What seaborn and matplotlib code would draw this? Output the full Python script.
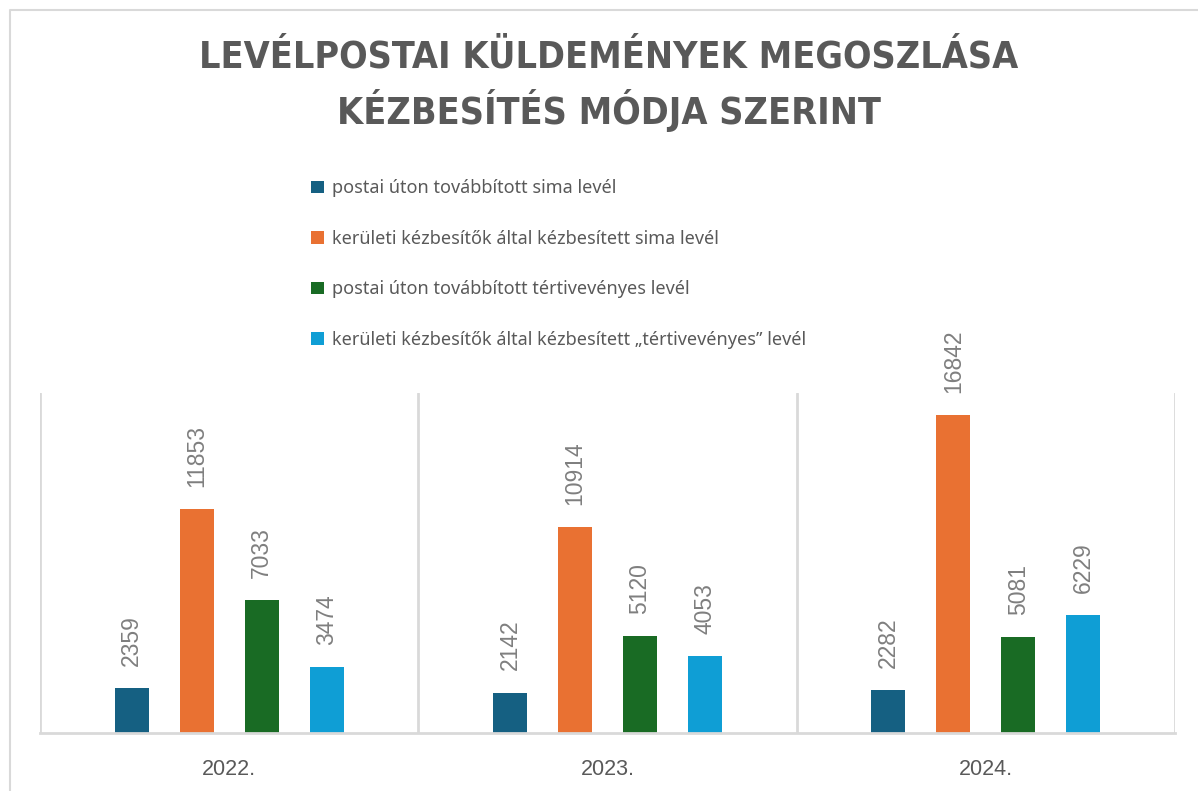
import matplotlib
matplotlib.use("Agg")
import matplotlib.pyplot as plt
import seaborn as sns
import pandas as pd
from matplotlib.lines import Line2D

years = ["2022.", "2023.", "2024."]
series = [
    "postai úton továbbított sima levél",
    "kerületi kézbesítők által kézbesített sima levél",
    "postai úton továbbított tértivevényes levél",
    "kerületi kézbesítők által kézbesített „tértivevényes” levél",
]
postai_sima = [2359, 2142, 2282]
keruleti_sima = [11853, 10914, 16842]
postai_terti = [7033, 5120, 5081]
keruleti_terti = [3474, 4053, 6229]
colors = ["#156082", "#E97132", "#196B24", "#0F9ED5"]

title = "LEVÉLPOSTAI KÜLDEMÉNYEK MEGOSZLÁSA\nKÉZBESÍTÉS MÓDJA SZERINT"

values = [postai_sima, keruleti_sima, postai_terti, keruleti_terti]
rows = []
for s, vals in zip(series, values):
    for y, v in zip(years, vals):
        rows.append({"year": y, "series": s, "value": v})
df = pd.DataFrame(rows)

sns.set_theme(style="white")
plt.rcParams["font.family"] = ["Liberation Sans", "DejaVu Sans"]

fig = plt.figure(figsize=(11.98, 7.91), dpi=100)
ax = fig.add_axes([40 / 1198, 1 - 733 / 791, (1175 - 40) / 1198, (733 - 393) / 791])

sns.barplot(data=df, x="year", y="value", hue="series", hue_order=series,
            palette=colors, width=0.688, gap=0.477, ax=ax, linewidth=0,
            errorbar=None, saturation=1)

ax.set_ylim(0, 18000)
ax.set_xlim(-0.5, 2.5)
ax.set_xlabel("")
ax.set_ylabel("")
ax.set_yticks([])
for sp in ["top", "left", "right"]:
    ax.spines[sp].set_visible(False)
ax.spines["bottom"].set_color("#d9d9d9")
ax.spines["bottom"].set_linewidth(2)
for xv in [-0.5, 0.5, 1.5, 2.5]:
    ax.axvline(xv, color="#d9d9d9", lw=2, zorder=0)
ax.tick_params(axis="x", length=0, pad=19, labelsize=15.5, colors="#595959")

for cont in ax.containers:
    ax.bar_label(cont, fmt="%d", rotation=90, padding=16, color="#7f7f7f",
                 fontsize=16.5)

handles, labels = ax.get_legend_handles_labels()
if ax.get_legend() is not None:
    ax.get_legend().remove()
leg = fig.legend(handles, labels, loc="upper left",
                 bbox_to_anchor=(295 / 1198, 1 - 163 / 791), frameon=False,
                 handlelength=0.7, handleheight=0.7, handletextpad=0.45,
                 labelspacing=1.8, prop={"family": "Noto Sans", "size": 13})
for t in leg.get_texts():
    t.set_color("#595959")

fig.text(609 / 1198, 1 - 86 / 791, title, ha="center", va="center",
         fontsize=27, fontweight="bold", color="#595959",
         family="DejaVu Sans", fontstretch="condensed", linespacing=1.38)

fig.add_artist(Line2D([9.5 / 1198, 9.5 / 1198, 1.0], [0.0, 1 - 10 / 791, 1 - 10 / 791],
                      transform=fig.transFigure, color="#d9d9d9", lw=1.5))

fig.savefig("out.png", dpi=100)
